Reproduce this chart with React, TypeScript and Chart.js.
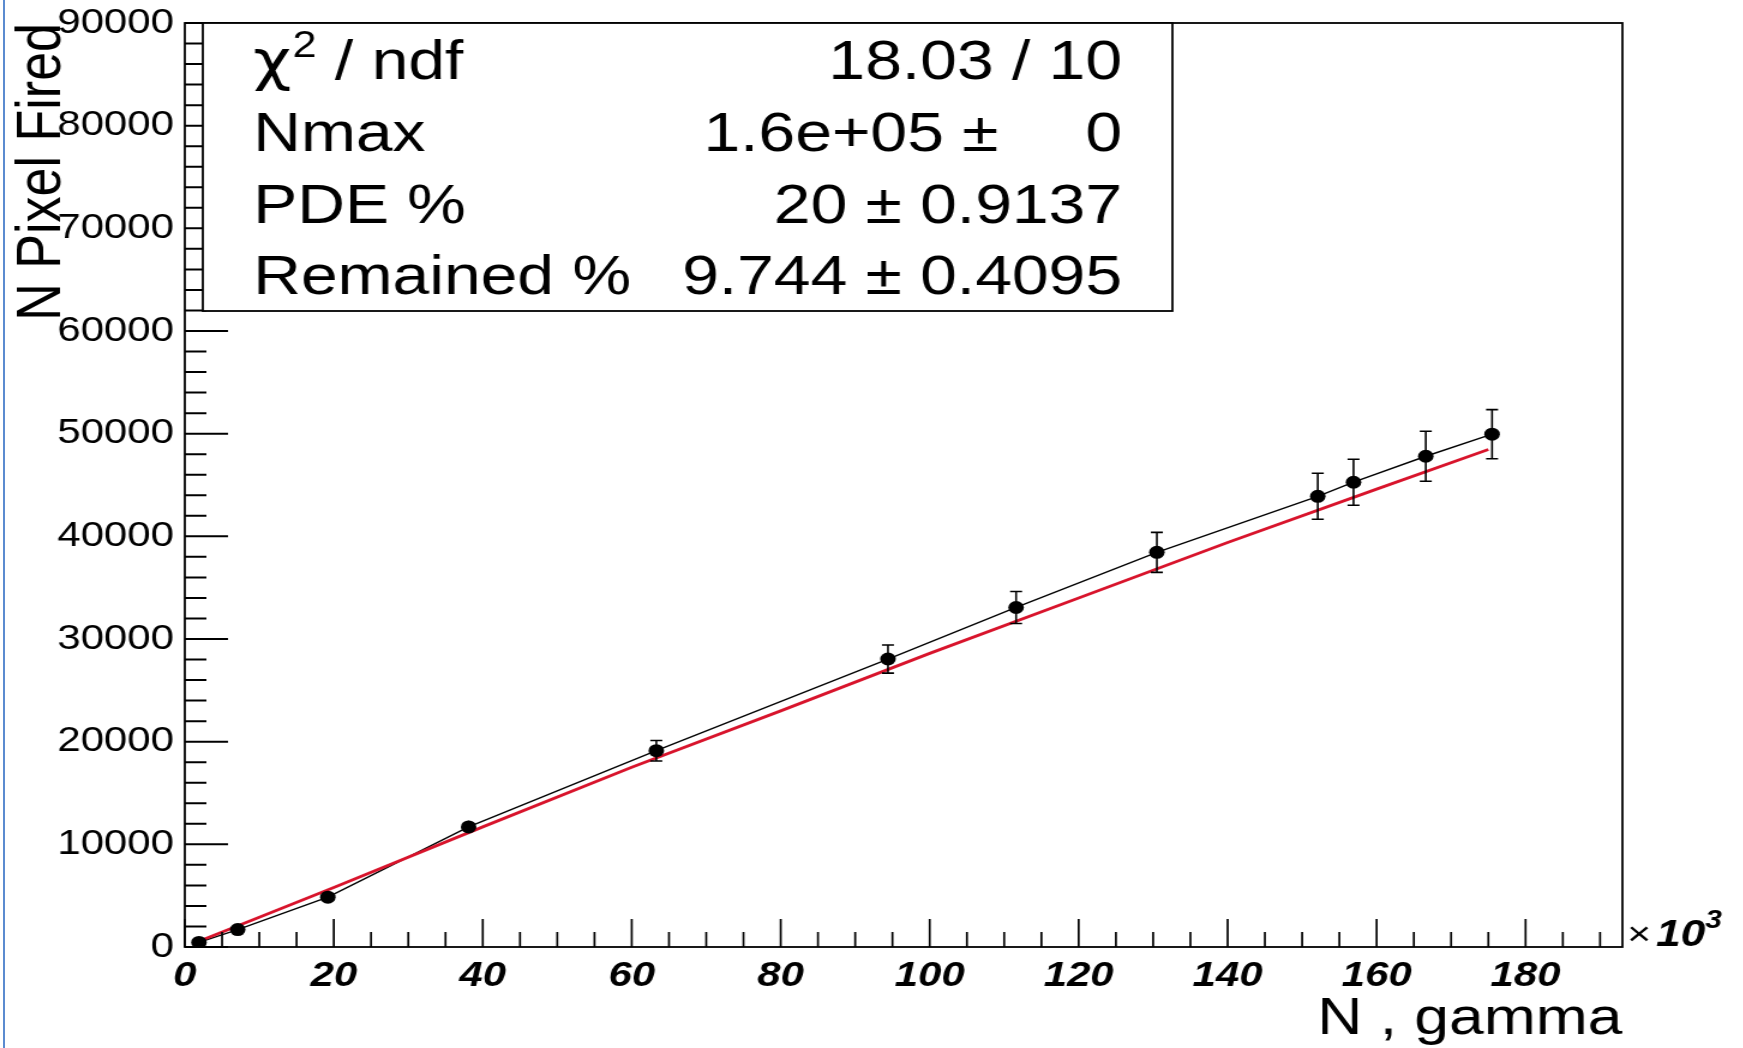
import React, { useEffect, useRef } from 'react';
import { Chart, registerables } from 'chart.js';

Chart.register(...registerables);

// ---- data ----
const nGamma = [1900, 7100, 19200, 38100, 63300, 94400, 111600, 130500, 152100, 156900, 166600, 175500];
const nFired = [450, 1700, 4850, 11700, 19120, 28050, 33070, 38440, 43900, 45270, 47800, 49950];
const nFiredErr = [30, 90, 250, 600, 1000, 1370, 1560, 1950, 2240, 2240, 2440, 2390];

const fitN = [1900, 10000, 20000, 40000, 60000, 80000, 100000, 120000, 140000, 160000, 175000];
const fitFired = [550, 2900, 5800, 11700, 17500, 23000, 28600, 34000, 39400, 44600, 48450];

const xTickValues = [0, 20000, 40000, 60000, 80000, 100000, 120000, 140000, 160000, 180000];
const yTickValues = [0, 10000, 20000, 30000, 40000, 50000, 60000, 70000, 80000, 90000];

const statNames = ['Nmax', 'PDE %', 'Remained %'];
const statValues = ['1.6e+05', '20', '9.744'];
const statErrors = ['0', '0.9137', '0.4095'];
const chi2Text = '18.03 / 10';

const X_MIN = 0;
const X_MAX = 193000;
const Y_MIN = 0;
const Y_MAX = 90000;

const STRETCH = 1.2;
const W = Math.round(1743 / STRETCH);
const H = 1048;
const FONT = '"Liberation Sans", Arial, Helvetica, sans-serif';

const rootPlugin = {
  id: 'rootStyle',
  afterDatasetsDraw(chart: any) {
    const ctx = chart.ctx;
    const xs = chart.scales.x;
    const ys = chart.scales.y;
    ctx.save();
    ctx.strokeStyle = '#000';
    ctx.lineWidth = 1.6;
    for (let i = 0; i < nGamma.length; i++) {
      const px = xs.getPixelForValue(nGamma[i]);
      const pTop = ys.getPixelForValue(nFired[i] + nFiredErr[i]);
      const pBot = ys.getPixelForValue(nFired[i] - nFiredErr[i]);
      ctx.beginPath();
      ctx.moveTo(px, pTop);
      ctx.lineTo(px, pBot);
      if (pBot - pTop > 14) {
        ctx.moveTo(px - 5, pTop);
        ctx.lineTo(px + 5, pTop);
        ctx.moveTo(px - 5, pBot);
        ctx.lineTo(px + 5, pBot);
      }
      ctx.stroke();
    }
    ctx.restore();
  },
  afterDraw(chart: any) {
    const ctx = chart.ctx;
    const xs = chart.scales.x;
    const ys = chart.scales.y;
    const a = chart.chartArea;
    ctx.save();
    ctx.strokeStyle = '#000';
    ctx.lineWidth = 1.7;
    // ticks inside the frame
    ctx.beginPath();
    for (let v = X_MIN; v <= X_MAX; v += 5000) {
      const px = xs.getPixelForValue(v);
      const len = v % 20000 === 0 ? 28 : 15;
      ctx.moveTo(px, a.bottom);
      ctx.lineTo(px, a.bottom - len);
    }
    ctx.stroke();
    ctx.lineWidth = 2;
    ctx.beginPath();
    for (let v = Y_MIN; v <= Y_MAX; v += 2000) {
      const py = ys.getPixelForValue(v);
      const len = v % 10000 === 0 ? 36 : 18;
      ctx.moveTo(a.left, py);
      ctx.lineTo(a.left + len, py);
    }
    ctx.stroke();
    // frame
    ctx.lineWidth = 1.8;
    ctx.strokeRect(a.left, a.top, a.right - a.left, a.bottom - a.top);

    // x10^3
    ctx.fillStyle = '#000';
    ctx.textAlign = 'left';
    ctx.textBaseline = 'alphabetic';
    ctx.font = `34px ${FONT}`;
    ctx.fillText('\u00d7', a.right + 4, a.bottom - 2);
    ctx.font = `italic bold 37px ${FONT}`;
    ctx.fillText('10', a.right + 28, a.bottom - 1);
    ctx.font = `italic bold 25px ${FONT}`;
    ctx.fillText('3', a.right + 69, a.bottom - 19);

    // stats box
    const bx = 169, by = a.top, bw = 808, bh = 288;
    ctx.fillStyle = '#fff';
    ctx.fillRect(bx, by, bw, bh);
    ctx.lineWidth = 1.8;
    ctx.strokeRect(bx, by, bw, bh);
    ctx.fillStyle = '#000';
    const lx = 211, rx = 935;
    const base = [79, 151, 223, 294];
    ctx.font = `55px "DejaVu Sans", ${FONT}`;
    ctx.textAlign = 'left';
    ctx.fillText('\u03c7', lx, base[0]);
    const chiW = ctx.measureText('\u03c7').width;
    ctx.font = `36px ${FONT}`;
    ctx.fillText('2', lx + chiW + 1, base[0] - 22);
    const twoW = ctx.measureText('2').width;
    ctx.font = `55px ${FONT}`;
    ctx.fillText(' / ndf', lx + chiW + twoW + 1, base[0]);
    ctx.textAlign = 'right';
    ctx.fillText(chi2Text, rx, base[0]);
    for (let i = 0; i < statNames.length; i++) {
      const y = base[i + 1];
      ctx.textAlign = 'left';
      ctx.fillText(statNames[i], lx, y);
      ctx.textAlign = 'right';
      if (i === 0) {
        ctx.fillText(`${statValues[i]} \u00b1`, rx - 103, y);
        ctx.fillText(statErrors[i], rx, y);
      } else {
        ctx.fillText(`${statValues[i]} \u00b1 ${statErrors[i]}`, rx, y);
      }
    }
    ctx.restore();
  },
};

export default function App() {
  const canvasRef = useRef<HTMLCanvasElement | null>(null);

  useEffect(() => {
    if (!canvasRef.current) return;
    const points = nGamma.map((x, i) => ({ x, y: nFired[i] }));
    const fit = fitN.map((x, i) => ({ x, y: fitFired[i] }));
    const chart = new Chart(canvasRef.current, {
      type: 'scatter',
      data: {
        datasets: [
          {
            label: 'data',
            data: points,
            showLine: false,
            pointRadius: 6.5,
            pointBackgroundColor: '#000',
            pointBorderColor: '#000',
            pointBorderWidth: 0,
            order: 0,
          },
          {
            label: 'fit',
            data: fit,
            showLine: true,
            borderColor: '#d8142c',
            borderWidth: 2.8,
            pointRadius: 0,
            tension: 0,
            order: 1,
          },
          {
            label: 'graph',
            data: points,
            showLine: true,
            borderColor: '#000',
            borderWidth: 1.4,
            pointRadius: 0,
            tension: 0,
            order: 2,
          },
        ],
      },
      options: {
        animation: false,
        responsive: false,
        devicePixelRatio: 1,
        events: [],
        layout: { padding: { left: 0, right: W - 1352, top: 23, bottom: 0 } },
        plugins: { legend: { display: false }, tooltip: { enabled: false } },
        scales: {
          x: {
            type: 'linear',
            min: X_MIN,
            max: X_MAX,
            grid: { display: false, drawTicks: false },
            border: { display: false },
            afterBuildTicks: (axis: any) => {
              axis.ticks = xTickValues.map((value) => ({ value }));
            },
            afterFit: (scale: any) => {
              scale.height = 101;
              scale.paddingLeft = 0;
              scale.paddingRight = 0;
            },
            ticks: {
              autoSkip: false,
              maxRotation: 0,
              padding: 8,
              color: '#000',
              font: { family: FONT, size: 35, style: 'italic', weight: 'bold' },
              callback: (v: any) => String(Number(v) / 1000),
            },
            title: {
              display: true,
              text: 'N , gamma',
              align: 'end',
              color: '#000',
              font: { family: FONT, size: 52, lineHeight: 1 },
              padding: { top: 0, bottom: 2 },
            },
          },
          y: {
            type: 'linear',
            min: Y_MIN,
            max: Y_MAX,
            grid: { display: false, drawTicks: false },
            border: { display: false },
            afterBuildTicks: (axis: any) => {
              axis.ticks = yTickValues.map((value) => ({ value }));
            },
            afterFit: (scale: any) => {
              scale.width = 154;
              scale.paddingTop = 0;
              scale.paddingBottom = 0;
            },
            ticks: {
              autoSkip: false,
              padding: 9,
              color: '#000',
              font: { family: FONT, size: 35 },
              callback: (v: any) => String(v),
            },
            title: {
              display: true,
              text: 'N Pixel Fired',
              align: 'end',
              color: '#000',
              font: { family: FONT, size: 52, lineHeight: 1 },
              padding: { top: 10, bottom: 0 },
            },
          },
        },
      },
      plugins: [rootPlugin],
    });
    return () => chart.destroy();
  }, []);

  return (
    <div style={{ position: 'fixed', left: 0, top: 0, width: 1743, height: H, background: '#fff', overflow: 'hidden' }}>
      <div style={{ position: 'absolute', left: 0, top: 0, width: W, height: H, transform: `scaleX(${STRETCH})`, transformOrigin: '0 0' }}>
        <canvas ref={canvasRef} width={W} height={H} style={{ display: 'block', width: W, height: H }} />
      </div>
      <div style={{ position: 'absolute', left: 3, top: 0, width: 2, height: H, background: '#5b8bd0' }} />
    </div>
  );
}
